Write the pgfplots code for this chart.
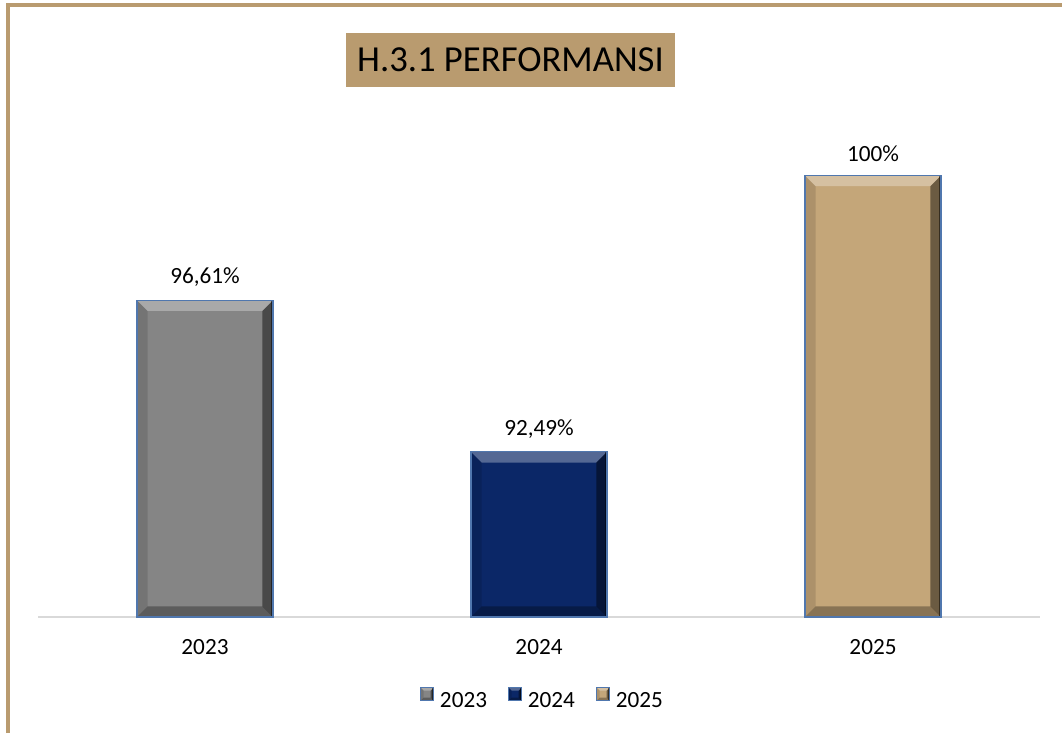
\documentclass[border=0pt]{standalone}
\usepackage{fontspec}
\setmainfont{Carlito}
\usepackage{pgfplots}
\pgfplotsset{compat=1.18}

\definecolor{frametan}{HTML}{B99B6F}
\definecolor{bargrey}{HTML}{858585}
\definecolor{barnavy}{HTML}{0B2767}
\definecolor{bartan}{HTML}{C4A679}
\definecolor{edgeblue}{HTML}{5077AE}
\definecolor{axisgrey}{HTML}{D9D9D9}

\def\u{0.75pt}
\def\bv{8pt}
\newcommand{\lblfont}{\fontsize{17.4}{20}\selectfont}
\newif\ifinbevel

% bevelled look of the Excel bars, drawn inside each bar's own outline
\tikzset{
  bevel/.style={path picture={\ifinbevel\else\inbeveltrue
    \fill[draw=none,white,opacity=0.3] (path picture bounding box.north west) -- (path picture bounding box.north east)
      -- ([xshift=-\bv,yshift=-\bv]path picture bounding box.north east)
      -- ([xshift=\bv,yshift=-\bv]path picture bounding box.north west) -- cycle;
    \fill[draw=none,black,opacity=0.45] (path picture bounding box.north east) -- (path picture bounding box.south east)
      -- ([xshift=-\bv,yshift=\bv]path picture bounding box.south east)
      -- ([xshift=-\bv,yshift=-\bv]path picture bounding box.north east) -- cycle;
    \fill[draw=none,black,opacity=0.3] (path picture bounding box.south east) -- (path picture bounding box.south west)
      -- ([xshift=\bv,yshift=\bv]path picture bounding box.south west)
      -- ([xshift=-\bv,yshift=\bv]path picture bounding box.south east) -- cycle;
    \fill[draw=none,black,opacity=0.12] (path picture bounding box.south west) -- (path picture bounding box.north west)
      -- ([xshift=\bv,yshift=-\bv]path picture bounding box.north west)
      -- ([xshift=\bv,yshift=\bv]path picture bounding box.south west) -- cycle;
    \fill[draw=none,black,opacity=0.5] (path picture bounding box.north east) rectangle ([xshift=-1.5pt]path picture bounding box.south east);
    \fi
  }}
}

\begin{document}
\begin{tikzpicture}
\path[use as bounding box] (0,0) rectangle ({1062*\u},{733*\u});
% frame
\draw[frametan, line width=2.8pt] ({8*\u},0) -- ({8*\u},{728*\u}) -- ({1062*\u},{728*\u});
% title
\node[fill=frametan, minimum width={329*\u}, minimum height={54*\u}, inner sep=0pt,
      font=\fontsize{27.5}{30}\selectfont] at ({510.5*\u},{673*\u}) {H.3.1 PERFORMANSI};

\begin{axis}[
    at={(28.5pt,87pt)}, anchor=south west,
    scale only axis,
    width=751.5pt, height=386.25pt,
    ybar, bar width=102pt, bar shift=0pt,
    xmin=-0.5, xmax=2.5,
    ymin=0, ymax=14,
    y filter/.expression={y-88},
    hide y axis,
    axis x line*=bottom,
    x axis line style={axisgrey, line width=1.5pt},
    xtick={0,1,2},
    xticklabels={2023,2024,2025},
    major tick length=0pt,
    x tick label style={font=\lblfont, yshift=-13pt},
    clip=false,
    legend style={at={(0.504,-0.161)}, anchor=center, draw=none, font=\lblfont,
        legend columns=3,
        /tikz/every odd column/.append style={column sep=2.5pt},
        /tikz/every even column/.append style={column sep=14pt}},
    legend image code/.code={\def\bv{2.2pt}\draw[#1, line width=0.6pt] (0pt,0.6pt) rectangle (9.6pt,10.2pt);},
]
\addplot[fill=bargrey, draw=edgeblue, line width=0.8pt, bevel] coordinates {(0,96.61)};
\addplot[fill=barnavy, draw=edgeblue, line width=0.8pt, bevel] coordinates {(1,92.49)};
\addplot[fill=bartan, draw=edgeblue, line width=0.8pt, bevel] coordinates {(2,100)};
\legend{2023,2024,2025}
% data labels
\addplot[draw=none, fill=none, forget plot,
    nodes near coords, point meta=explicit symbolic,
    every node near coord/.append style={font=\lblfont, text=black, yshift=6.75pt}]
    coordinates {(0,96.61) [96,61\%] (1,92.49) [92,49\%] (2,100) [100\%]};
\end{axis}
\end{tikzpicture}
\end{document}
